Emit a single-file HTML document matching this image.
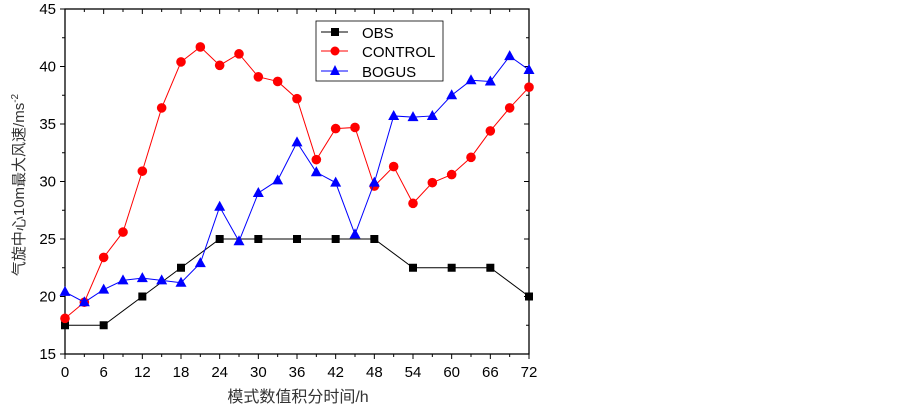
<!DOCTYPE html>
<html><head><meta charset="utf-8"><style>
body{margin:0;background:#fff;}
svg text{font-family:"Liberation Sans","Noto Sans CJK SC",sans-serif;}
</style></head><body>
<svg id="chart" width="903" height="405" xmlns="http://www.w3.org/2000/svg">
<rect x="65" y="9" width="464" height="345" fill="none" stroke="#000" stroke-width="1.3"/>
<g id="axes"></g>
<g id="series"></g>
<g>
<rect x="316" y="21" width="127" height="60" fill="#fff" stroke="#000" stroke-width="0.8"/>
<line x1="321" y1="32" x2="348" y2="32" stroke="#000"/><rect x="331" y="28" width="8" height="8" fill="#000"/>
<text x="362" y="38" font-size="15">OBS</text>
<line x1="321" y1="51" x2="348" y2="51" stroke="#f00"/><circle cx="335" cy="51" r="4.5" fill="#f00"/>
<text x="362" y="57" font-size="15">CONTROL</text>
<line x1="321" y1="71" x2="348" y2="71" stroke="#00f"/><polygon points="335,65 340,75 330,75" fill="#00f"/>
<text x="362" y="77" font-size="15">BOGUS</text>
</g>
<text transform="translate(24,185) rotate(-90)" text-anchor="middle" font-size="15" fill="#333">气旋中心10m最大风速/ms<tspan dy="-6" font-size="10">-2</tspan></text>
<text x="298" y="402" text-anchor="middle" font-size="16" fill="#333">模式数值积分时间/h</text>
</svg>
<script>
const hours=[0,3,6,9,12,15,18,21,24,27,30,33,36,39,42,45,48,51,54,57,60,63,66,69,72];
const obsHours=[0,6,12,18,24,30,36,42,48,54,60,66,72];
const obs=[17.5,17.5,20,22.5,25,25,25,25,25,22.5,22.5,22.5,20];
const control=[18.1,19.5,23.4,25.6,30.9,36.4,40.4,41.7,40.1,41.1,39.1,38.7,37.2,31.9,34.6,34.7,29.6,31.3,28.1,29.9,30.6,32.1,34.4,36.4,38.2];
const bogus=[20.4,19.5,20.6,21.4,21.6,21.4,21.2,22.9,27.8,24.8,29.0,30.1,33.4,30.8,29.9,25.4,29.9,35.7,35.6,35.7,37.5,38.8,38.7,40.9,39.7];
const xTicks=[0,6,12,18,24,30,36,42,48,54,60,66,72];
const yTicks=[15,20,25,30,35,40,45];
const NS="http://www.w3.org/2000/svg";
const X=v=>65+v/72*464, Y=v=>354-(v-15)/30*345;
function mk(t,a,p){const e=document.createElementNS(NS,t);for(const k in a)e.setAttribute(k,a[k]);p.appendChild(e);return e;}
const ax=document.getElementById('axes'), sg=document.getElementById('series');
xTicks.forEach(t=>{
 mk('line',{x1:X(t),x2:X(t),y1:354,y2:359,stroke:'#000'},ax);
 mk('line',{x1:X(t),x2:X(t),y1:9,y2:14,stroke:'#000'},ax);
 const tx=mk('text',{x:X(t),y:377,'text-anchor':'middle','font-size':15},ax);tx.textContent=t;
 
 
});
for(let t=3;t<72;t+=6){mk('line',{x1:X(t),x2:X(t),y1:354,y2:357,stroke:'#000'},ax);mk('line',{x1:X(t),x2:X(t),y1:9,y2:12,stroke:'#000'},ax);}
yTicks.forEach(t=>{
 mk('line',{x1:60,x2:65,y1:Y(t),y2:Y(t),stroke:'#000'},ax);
 mk('line',{x1:524,x2:529,y1:Y(t),y2:Y(t),stroke:'#000'},ax);
 const tx=mk('text',{x:56,y:Y(t)+5,'text-anchor':'end','font-size':15},ax);tx.textContent=t;
 
 
});
for(let t=17.5;t<45;t+=5){mk('line',{x1:62,x2:65,y1:Y(t),y2:Y(t),stroke:'#000'},ax);mk('line',{x1:526,x2:529,y1:Y(t),y2:Y(t),stroke:'#000'},ax);}
function series(xs,ys,color,shape,name){
 const pl=mk('polyline',{points:xs.map((x,i)=>X(x)+','+Y(ys[i])).join(' '),fill:'none',stroke:color,'stroke-width':1},sg);
 
 
 xs.forEach((x,i)=>{const cx=X(x),cy=Y(ys[i]);let m;
  if(shape==='sq')m=mk('rect',{x:cx-4,y:cy-4,width:8,height:8,fill:color},sg);
  else if(shape==='c')m=mk('circle',{cx:cx,cy:cy,r:4.8,fill:color},sg);
  else m=mk('polygon',{points:`${cx},${cy-6} ${cx+5.5},${cy+4} ${cx-5.5},${cy+4}`,fill:color},sg);
  
  
 });
}
series(obsHours,obs,'#000','sq','obs');
series(hours,control,'#f00','c','control');
series(hours,bogus,'#00f','t','bogus');
</script>
</body></html>
